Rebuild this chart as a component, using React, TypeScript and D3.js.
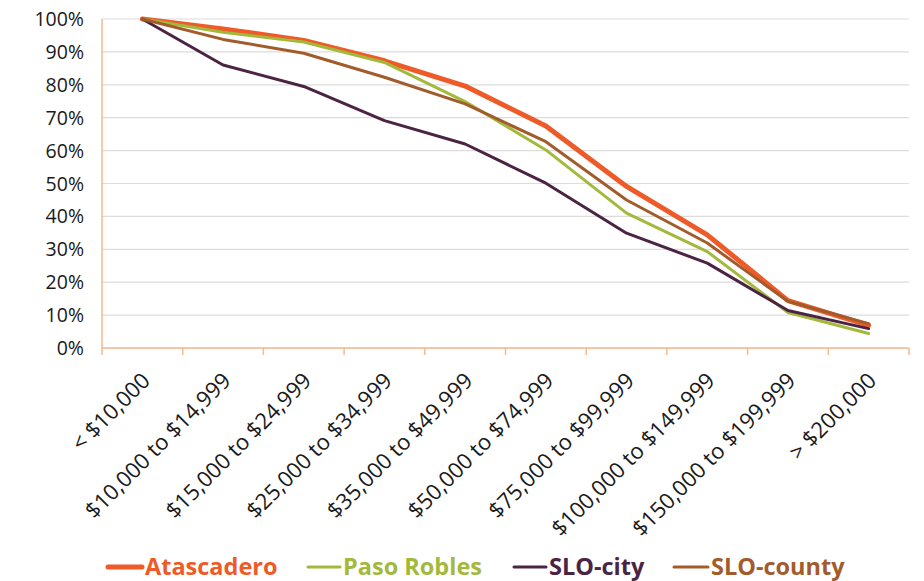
import React from "react";
import * as d3 from "d3";

const categories = [
  "< $10,000",
  "$10,000 to $14,999",
  "$15,000 to $24,999",
  "$25,000 to $34,999",
  "$35,000 to $49,999",
  "$50,000 to $74,999",
  "$75,000 to $99,999",
  "$100,000 to $149,999",
  "$150,000 to $199,999",
  "> $200,000",
];

const atascadero = [100, 97, 93.5, 87.3, 79.6, 67.5, 49.1, 34.4, 14.4, 6.9];
const pasoRobles = [100, 96, 93, 86.8, 74.9, 60.2, 41, 29.3, 10.8, 4.4];
const sloCity = [100, 86, 79.5, 69.1, 62, 50.1, 34.9, 25.8, 11.4, 5.9];
const sloCounty = [100, 93.8, 89.6, 82.3, 74.2, 62.7, 45, 31.9, 14.2, 7.4];

const yTicks = [0, 10, 20, 30, 40, 50, 60, 70, 80, 90, 100];

const series = [
  { name: "Atascadero", values: atascadero, color: "#EE5A28", width: 5 },
  { name: "Paso Robles", values: pasoRobles, color: "#A3B93B", width: 3 },
  { name: "SLO-city", values: sloCity, color: "#4B2444", width: 3 },
  { name: "SLO-county", values: sloCounty, color: "#A25C2C", width: 3 },
];

// legend entries: [line x-start, text x-start]
const legendPos = [
  [108, 145],
  [308, 343],
  [514, 549],
  [674, 711],
];

const W = 924;
const H = 581;
const left = 102;
const right = 909;
const top = 19;
const bottom = 348;
const font = "'Open Sans', 'Noto Sans', sans-serif";

export default function App() {
  const x = d3.scaleBand<string>().domain(categories).range([left, right]).padding(0);
  const y = d3.scaleLinear().domain([0, 100]).range([bottom, top]);
  const cx = (c: string) => (x(c) as number) + x.bandwidth() / 2;

  const line = d3
    .line<number>()
    .x((_, i) => cx(categories[i]))
    .y((v) => y(v));

  const boundaries = categories.map((c) => x(c) as number).concat([right]);

  return (
    <svg
      width={W}
      height={H}
      style={{ position: "absolute", left: 0, top: 0, background: "#fff" }}
    >
      {/* horizontal grid */}
      {yTicks.map((t) => (
        <line
          key={t}
          x1={left}
          x2={right}
          y1={y(t)}
          y2={y(t)}
          stroke="#DCDCDC"
          strokeWidth={1.2}
        />
      ))}
      {/* y tick labels */}
      {yTicks.map((t) => (
        <text
          key={"l" + t}
          x={84}
          y={y(t)}
          dy="0.36em"
          textAnchor="end"
          fontFamily={font}
          fontSize={19.5}
          fill="#1a1a1a"
        >
          {t + "%"}
        </text>
      ))}
      {/* axes */}
      <line x1={left} x2={left} y1={top} y2={bottom} stroke="#F7B98C" strokeWidth={1.5} />
      <line x1={left} x2={right} y1={bottom} y2={bottom} stroke="#F7B98C" strokeWidth={1.5} />
      {boundaries.map((b, i) => (
        <line key={"t" + i} x1={b} x2={b} y1={bottom} y2={bottom + 7} stroke="#F7B98C" strokeWidth={1.5} />
      ))}
      {/* x tick labels */}
      {categories.map((c) => (
        <text
          key={c}
          transform={`translate(${cx(c) + 9},${382}) rotate(-45)`}
          textAnchor="end"
          fontFamily={font}
          fontSize={22}
          fill="#1a1a1a"
        >
          {c}
        </text>
      ))}
      {/* series lines */}
      {series.map((s) => (
        <path
          key={s.name}
          d={line(s.values) as string}
          fill="none"
          stroke={s.color}
          strokeWidth={s.width}
          strokeLinejoin="round"
          strokeLinecap="round"
        />
      ))}
      {/* legend */}
      {series.map((s, i) => (
        <g key={"lg" + s.name}>
          <line
            x1={legendPos[i][0]}
            x2={legendPos[i][1] - 3}
            y1={567}
            y2={567}
            stroke={s.color}
            strokeWidth={s.width}
            strokeLinecap="round"
          />
          <text
            x={legendPos[i][1]}
            y={575}
            fontFamily={font}
            fontWeight="bold"
            fontSize={23.5}
            fill={s.color}
          >
            {s.name}
          </text>
        </g>
      ))}
    </svg>
  );
}
